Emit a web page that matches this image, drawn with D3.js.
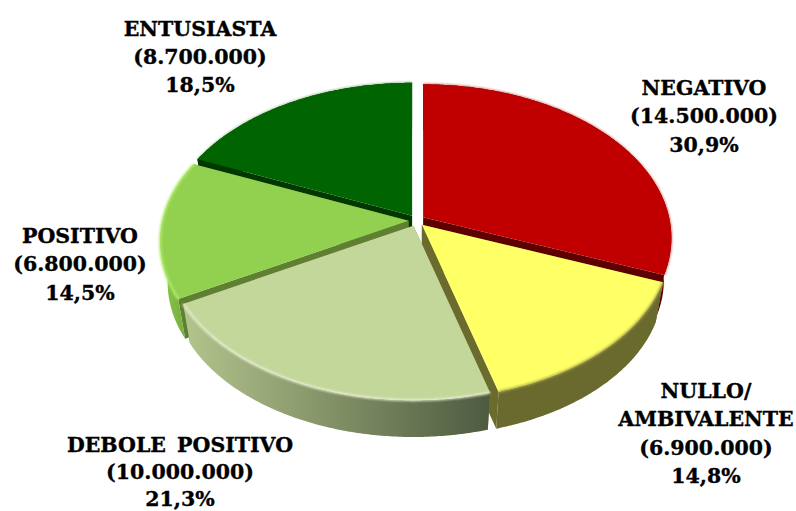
<!DOCTYPE html>
<html>
<head>
<meta charset="utf-8">
<script src="https://cdn.jsdelivr.net/npm/d3@7"></script>
<style>
  html, body { margin: 0; padding: 0; background: #fff; overflow: hidden; }
  svg { display: block; }
</style>
</head>
<body>
<svg id="drawing_region"></svg>
<script>
// values
const categories = ["NEGATIVO", "NULLO/ AMBIVALENTE", "DEBOLE POSITIVO", "POSITIVO", "ENTUSIASTA"];
const voters = [14500000, 6900000, 10000000, 6800000, 8700000];
const voterLabels = ["(14.500.000)", "(6.900.000)", "(10.000.000)", "(6.800.000)", "(8.700.000)"];
const percentLabels = ["30,9%", "14,8%", "21,3%", "14,5%", "18,5%"];

// slice styles, same order as categories
const topColors = ["#c00000", "#ffff66", "#c4d79b", "#92d050", "#006400"];
const wallColors = ["#5e0000", "#6b6b2d", "#7c8a5e", "#5f8030", "#003800"];
const rimColors = [
    ["#5e0000", "#5e0000"],
    ["#6b6b2d", "#6b6b2d"],
    ["#b4c48c", "#4e5a40"],
    ["#8dc94c", "#6ea339"],
    ["#003800", "#003800"]
];
const bevelColors = ["#b00000", "#a3a348", "#eef4da", "#aeea66", "#006400"];
const bevelWidths = [1, 2, 1.8, 2.4, 0.8];
const drawOrder = [4, 0, 3, 1, 2];

// label anchors in page pixels: x, first baseline, line gap
const labelPos = [[704, 95, 28.4], [706, 398, 28.4], [180, 452, 27], [80, 243, 28.4], [200, 36, 28.2]];

const width = 796, height = 511;
const center = {x: 416.5, y: 220.5};
const explode = 8, explodeFlat = 0.7;
const tilt = 0.135;         // perspective strength
const depth = 42, bottomScale = 0.97;

const svg = d3.select("#drawing_region").attr("width", width).attr("height", height);

const xscale = d3.scaleLinear().domain([-1, 1]).range([-246, 246]);
const yscale = d3.scaleLinear().domain([-1, 1]).range([-151, 151]);

// point on the rim of the tilted disc, angle clockwise from the top
function project(angle) {
    const u = Math.sin(angle), v = -Math.cos(angle);
    const w = 1 - tilt * v;
    return [xscale(u) / w, yscale(v) / w];
}

const pie = d3.pie().sort(null).value(d => d);
const arcs = pie(voters);
const line = d3.line();

const defs = svg.append("defs");
defs.append("filter").attr("id", "soft")
    .attr("x", "-10%").attr("y", "-10%").attr("width", "120%").attr("height", "120%")
    .append("feGaussianBlur").attr("stdDeviation", 0.8);
defs.append("filter").attr("id", "edge")
    .append("feGaussianBlur").attr("stdDeviation", 0.45);

arcs.forEach((a, i) => {
    const mid = (a.startAngle + a.endAngle) / 2;
    a.ox = center.x + explode * Math.sin(mid);
    a.oy = center.y - explode * explodeFlat * Math.cos(mid);
    const steps = Math.ceil((a.endAngle - a.startAngle) / 0.01);
    a.rimTop = d3.range(steps + 1).map(k => project(a.startAngle + (a.endAngle - a.startAngle) * k / steps));
    a.rimBottom = a.rimTop.map(p => [p[0] * bottomScale, p[1] * bottomScale + depth]);

    // gradient is used inside the translated slice group, so local coordinates
    const xs = a.rimTop.map(p => p[0]);
    defs.append("linearGradient").attr("id", "rim" + i)
        .attr("gradientUnits", "userSpaceOnUse")
        .attr("x1", d3.min(xs)).attr("x2", d3.max(xs)).attr("y1", 0).attr("y2", 0)
        .selectAll("stop").data(rimColors[i]).join("stop")
        .attr("offset", (d, k) => k * 100 + "%")
        .attr("stop-color", d => d);
});

const pieGroup = svg.append("g");

drawOrder.forEach(i => {
    const a = arcs[i];
    const g = pieGroup.append("g").attr("transform", `translate(${a.ox},${a.oy})`);
    const first = a.rimTop[0], last = a.rimTop[a.rimTop.length - 1];
    const firstB = a.rimBottom[0], lastB = a.rimBottom[a.rimBottom.length - 1];

    // the two cut faces
    [[first, firstB], [last, lastB]].forEach(e => {
        g.append("path")
            .attr("d", line([[0, 0], e[0], e[1], [0, depth]]) + "Z")
            .attr("fill", wallColors[i]);
    });

    // outer rim
    g.append("path")
        .attr("d", line(a.rimTop.concat(a.rimBottom.slice().reverse())) + "Z")
        .attr("fill", `url(#rim${i})`)
        .attr("filter", "url(#edge)");

    // top face
    g.append("path")
        .attr("d", line([[0, 0]].concat(a.rimTop)) + "Z")
        .attr("fill", topColors[i]);

    // soft bevel on the outer edge
    g.append("path")
        .attr("d", line(a.rimTop))
        .attr("fill", "none")
        .attr("stroke", bevelColors[i])
        .attr("stroke-width", bevelWidths[i])
        .attr("filter", "url(#soft)");
});

const labels = svg.append("g")
    .attr("font-family", "'DejaVu Serif', serif")
    .attr("font-weight", "bold")
    .attr("font-size", "20.5px")
    .attr("word-spacing", "4px")
    .attr("fill", "#000")
    .attr("stroke", "#000")
    .attr("stroke-width", 0.35)
    .attr("text-anchor", "middle");

categories.forEach((c, i) => {
    const rows = (c.includes("/ ") ? c.replace("/ ", "/|").split("|") : [c])
        .concat([voterLabels[i], percentLabels[i]]);
    labels.selectAll(null).data(rows).enter().append("text")
        .attr("x", labelPos[i][0])
        .attr("y", (d, k) => labelPos[i][1] + k * labelPos[i][2])
        .text(d => d);
});
</script>
</body>
</html>
